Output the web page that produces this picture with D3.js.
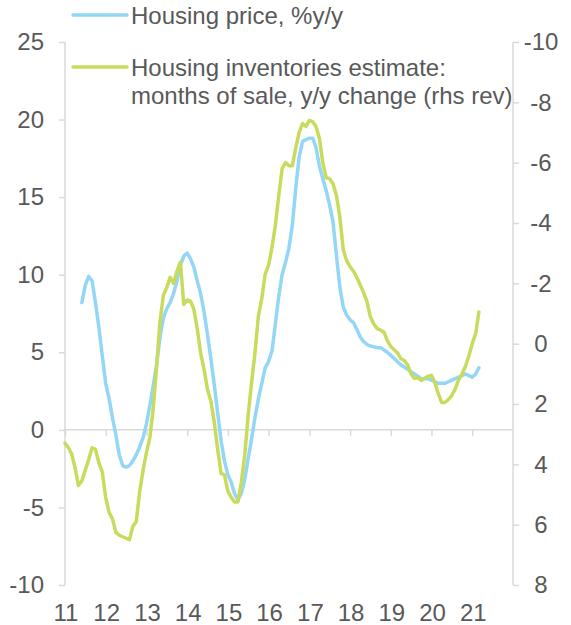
<!DOCTYPE html>
<html lang="en">
  <head>
    <meta charset="UTF-8" />
    <title>Housing price vs inventories</title>
    <script src="https://cdn.jsdelivr.net/npm/d3@7/dist/d3.min.js"></script>
    <style>
      body {
        margin: 0;
        background: #fff;
      }
      text {
        font-family: "Liberation Sans", Arial, sans-serif;
        font-size: 24px;
        fill: #595959;
      }
      .axis-line {
        stroke: #d9d9d9;
        stroke-width: 1.5px;
        fill: none;
      }
    </style>
  </head>
  <body>
    <svg width="571" height="625"></svg>
    <script>
      const svg = d3.select("svg");

      // monthly series, first month given as start
      const priceStart = new Date(2011, 5, 1);
      const priceValues = [
        8.2, 9.3, 9.9, 9.6, 8.2, 6.6, 4.8, 3.0, 2.0, 0.8, -0.3, -1.6, -2.3,
        -2.4, -2.3, -2.0, -1.6, -1.1, -0.5, 0.4, 1.6, 2.8, 4.2, 5.9, 7.2, 7.8,
        8.2, 8.8, 9.6, 10.6, 11.2, 11.4, 11.0, 10.5, 9.6, 8.8, 7.6, 6.2, 4.6,
        2.9, 1.1, -0.7, -2.0, -2.9, -3.4, -4.1, -4.5, -4.1, -3.2, -1.9, -0.6,
        0.8, 2.0, 3.0, 4.0, 4.4, 5.1, 6.8, 8.6, 10.0, 10.8, 11.7, 13.2, 15.6,
        17.6, 18.6, 18.7, 18.8, 18.8, 18.2, 17.0, 16.2, 15.4, 14.5, 13.4, 11.2,
        9.2, 7.9, 7.4, 7.1, 6.9, 6.5, 6.0, 5.7, 5.5, 5.4, 5.35, 5.3, 5.3, 5.15,
        5.0, 4.8, 4.6, 4.4, 4.2, 4.05, 3.9, 3.75, 3.6, 3.45, 3.3, 3.3, 3.3, 3.2,
        3.1, 3.0, 3.0, 3.0, 3.1, 3.2, 3.3, 3.4, 3.5, 3.6, 3.5, 3.4, 3.6, 4.0,
      ];

      const invStart = new Date(2011, 0, 1);
      const invValues = [
        3.3, 3.45, 3.65, 4.1, 4.7, 4.55, 4.2, 3.85, 3.45, 3.5, 3.95, 4.25, 5.1,
        5.6, 5.8, 6.25, 6.35, 6.4, 6.45, 6.5, 6.05, 5.9, 4.9, 4.2, 3.6, 3.1,
        2.2, 0.8, -0.7, -1.6, -1.85, -2.2, -2.0, -2.4, -2.7, -1.3, -1.45, -1.4,
        -1.15, -0.5, 0.3, 0.85, 1.5, 1.9, 2.6, 3.5, 4.3, 4.35, 4.9, 5.1, 5.25,
        5.25, 4.6, 3.7, 2.4, 1.3, 0.3, -0.9, -1.5, -2.3, -2.6, -3.2, -3.9, -4.9,
        -5.8, -6.0, -5.9, -5.9, -6.5, -7.0, -7.3, -7.2, -7.4, -7.35, -7.2, -6.8,
        -6.0, -5.5, -5.47, -5.3, -4.9, -4.2, -3.1, -2.75, -2.55, -2.4, -2.2,
        -1.95, -1.7, -1.4, -0.9, -0.65, -0.5, -0.45, -0.38, -0.1, 0.1, 0.2, 0.3,
        0.5, 0.55, 0.7, 1.0, 1.15, 1.13, 1.22, 1.15, 1.08, 1.05, 1.3, 1.65,
        1.95, 1.95, 1.85, 1.72, 1.5, 1.2, 1.0, 0.75, 0.4, 0.0, -0.35, -1.05,
      ];

      const yearTicks = d3.range(2011, 2022);
      const leftTicks = [-10, -5, 0, 5, 10, 15, 20, 25];
      const rightTicks = [-10, -8, -6, -4, -2, 0, 2, 4, 6, 8];

      const legendLabels = [
        ["Housing price, %y/y"],
        ["Housing inventories estimate:", "months of sale, y/y change (rhs rev)"],
      ];
      const colors = ["#93d6f5", "#c8db5c"];

      const plotLeft = 65,
        plotRight = 513,
        plotTop = 42,
        plotBottom = 585;

      const x = d3
        .scaleTime()
        .domain([new Date(2011, 0, 1), new Date(2022, 0, 1)])
        .range([plotLeft, plotRight]);
      const yL = d3.scaleLinear().domain([-10, 25]).range([plotBottom, plotTop]);
      const yR = d3.scaleLinear().domain([-10, 8]).range([plotTop, plotBottom]);

      const price = priceValues.map((v, i) => ({
        date: d3.timeMonth.offset(priceStart, i),
        v,
      }));
      const inv = invValues.map((v, i) => ({
        date: d3.timeMonth.offset(invStart, i),
        v,
      }));

      // plain hyphen for negatives, like the original
      const fmt = (d) => String(d);

      // left axis
      const gL = svg.append("g").attr("transform", `translate(${plotLeft},0)`);
      gL.call(
        d3
          .axisLeft(yL)
          .tickValues(leftTicks)
          .tickFormat(fmt)
          .tickSize(6)
          .tickPadding(15)
      );
      // right axis
      const gR = svg.append("g").attr("transform", `translate(${plotRight},0)`);
      gR.call(
        d3
          .axisRight(yR)
          .tickValues(rightTicks)
          .tickFormat(fmt)
          .tickSize(6)
          .tickPadding(10)
      );
      [gL, gR].forEach((g) => {
        g.select(".domain").remove();
        g.selectAll("line").attr("class", "axis-line");
        g.append("line")
          .attr("class", "axis-line")
          .attr("y1", plotTop)
          .attr("y2", plotBottom);
        g.selectAll("text")
          .attr("font-size", null)
          .attr("font-family", null)
          .attr("fill", null);
      });
      gR.selectAll(".tick text").attr("text-anchor", "middle").attr("x", 28);

      // x axis across zero of left scale
      const gX = svg
        .append("g")
        .attr("transform", `translate(0,${yL(0)})`);
      gX.call(
        d3
          .axisBottom(x)
          .tickValues(yearTicks.map((y) => new Date(y, 0, 1)))
          .tickSize(6)
          .tickFormat("")
      );
      gX.select(".domain").remove();
      gX.selectAll("line").attr("class", "axis-line");
      gX.append("line")
        .attr("class", "axis-line")
        .attr("x1", plotLeft)
        .attr("x2", plotRight);

      svg
        .append("g")
        .selectAll("text")
        .data(yearTicks)
        .join("text")
        .attr("x", (d) => x(new Date(d, 0, 1)) + 1)
        .attr("y", 621)
        .attr("text-anchor", "middle")
        .text((d) => String(d % 100).padStart(2, "0"));

      // series
      const lineL = d3
        .line()
        .x((d) => x(d.date))
        .y((d) => yL(d.v));
      const lineR = d3
        .line()
        .x((d) => x(d.date))
        .y((d) => yR(d.v));

      svg
        .append("path")
        .datum(price)
        .attr("d", lineL)
        .attr("fill", "none")
        .attr("stroke", colors[0])
        .attr("stroke-width", 3.5)
        .attr("stroke-linejoin", "round")
        .attr("stroke-linecap", "round");
      svg
        .append("path")
        .datum(inv)
        .attr("d", lineR)
        .attr("fill", "none")
        .attr("stroke", colors[1])
        .attr("stroke-width", 3.5)
        .attr("stroke-linejoin", "round")
        .attr("stroke-linecap", "round");

      // legend
      const legendY = [15, 67];
      const leg = svg
        .append("g")
        .selectAll("g")
        .data(legendLabels)
        .join("g")
        .attr("transform", (d, i) => `translate(0,${legendY[i]})`);
      leg
        .append("line")
        .attr("x1", 73)
        .attr("x2", 127)
        .attr("stroke", (d, i) => colors[i])
        .attr("stroke-width", 3.5)
        .attr("stroke-linecap", "round");
      leg
        .append("text")
        .attr("x", 131)
        .attr("y", 8.5)
        .selectAll("tspan")
        .data((d) => d)
        .join("tspan")
        .attr("x", 131)
        .attr("dy", (d, i) => (i === 0 ? 0 : 28))
        .text((d) => d);
    </script>
  </body>
</html>
